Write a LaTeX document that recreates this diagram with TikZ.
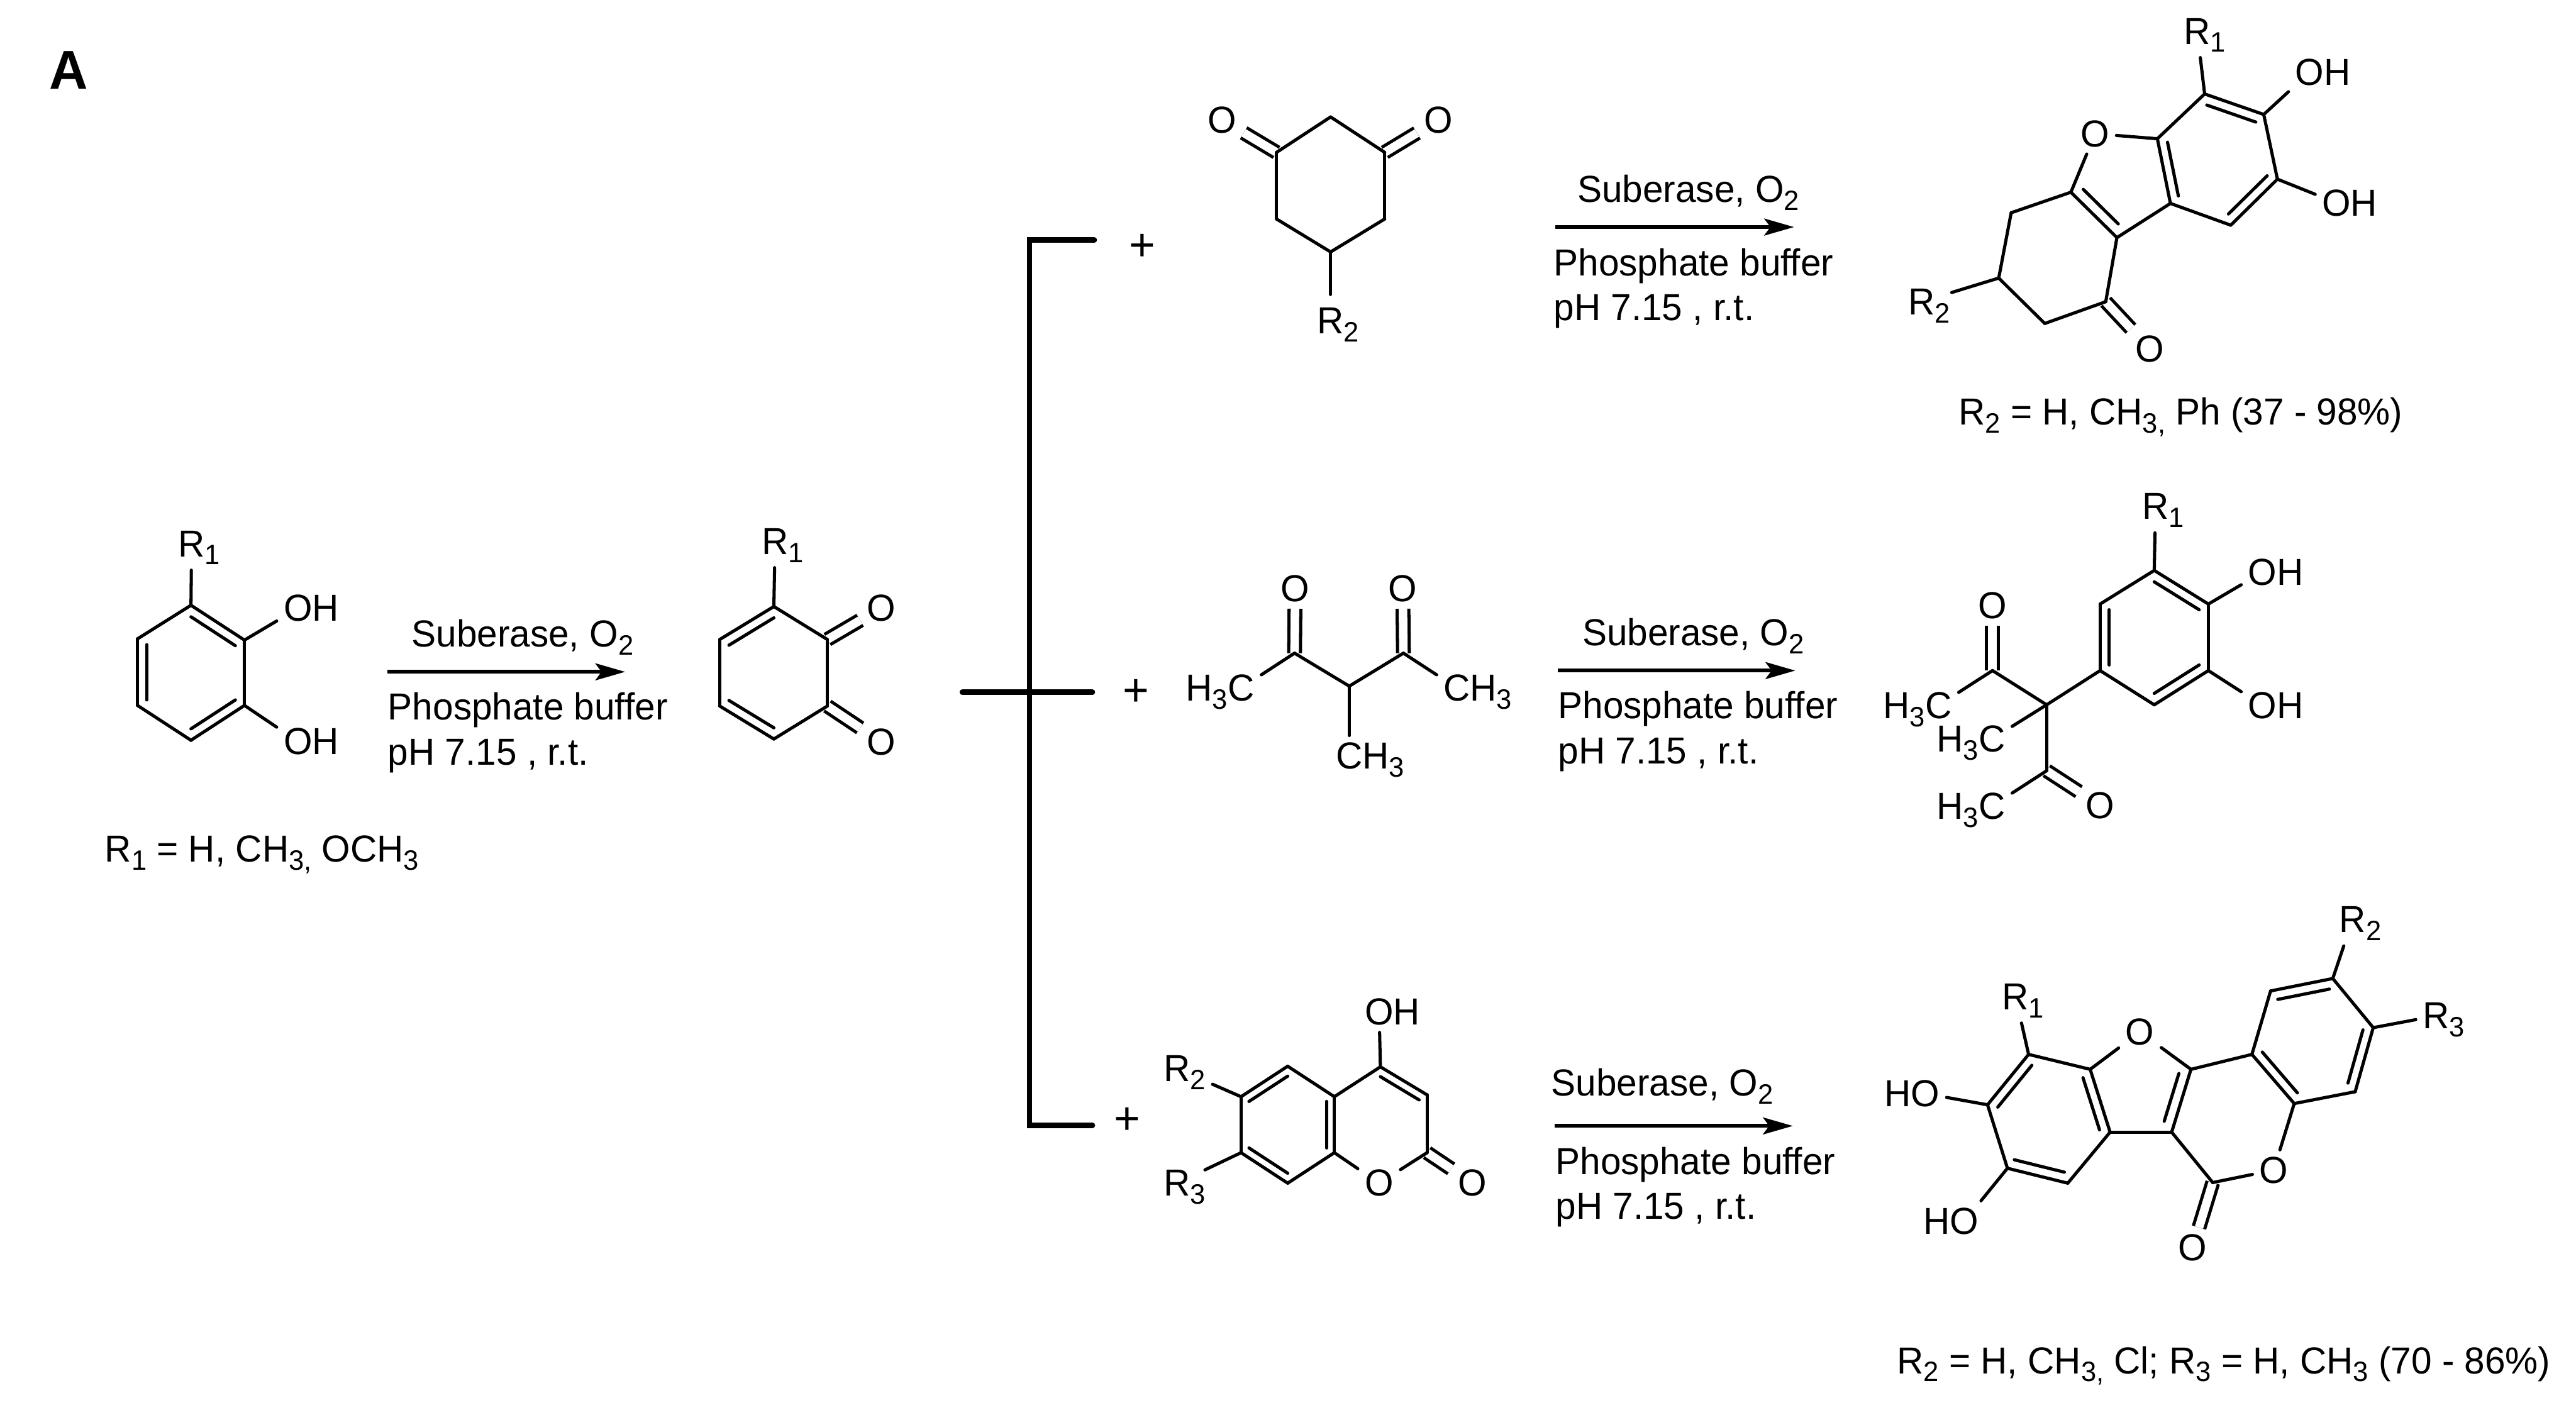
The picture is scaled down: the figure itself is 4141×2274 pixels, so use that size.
\documentclass[tikz,border=0pt]{standalone}
\usepackage{fontspec}
\setmainfont{Liberation Sans}[FakeStretch=.978]
\usetikzlibrary{arrows.meta}
\usetikzlibrary{calc}
\usetikzlibrary{graphs}
\tikzset{>={Stealth[length=13.6pt,width=7.7pt,inset=2.8pt]}}
\tikzstyle{lbl}=[anchor=base west,inner sep=0pt,font=\fontsize{17.2}{20}\selectfont]
\tikzstyle{atom}=[inner sep=3pt,font=\fontsize{17.2}{20}\selectfont]
\tikzstyle{rgroup}=[atom,inner xsep=3pt,inner ysep=6pt]
\tikzstyle{rside}=[atom,inner xsep=7.5pt]
\tikzstyle{plus}=[atom,font=\fontsize{21}{24}\selectfont]
\tikzstyle{bond}=[line width=1.45pt,line cap=round]
\tikzstyle{carbonyl}=[line width=1.45pt,line cap=butt,double,double distance=3.9pt]
\tikzstyle{bracket}=[line width=2.55pt,line cap=round]
\tikzstyle{rxn}=[->,line width=1.7pt]
\newcommand{\sbs}[1]{\raisebox{-.13cm}{\fontsize{12.8}{13}\selectfont #1}}
\newcommand{\after}[1]{\rlap{\smash{#1}}} % bond points at the first letter
\newcommand{\before}[1]{\llap{\smash{#1}}}
\newcommand{\ringbond}[4][.17]{\draw[bond] ($(#2)!#1!(#4)$) -- ($(#3)!#1!(#4)$);}

\begin{document}
\begin{tikzpicture}[x=0.01cm,y=-0.01cm]
    \path[use as bounding box] (0,0) rectangle (4141,2274);

    \node[lbl,font=\fontsize{25}{28}\selectfont\bfseries] (panel) at (79,143) {A};

    \foreach \n/\x/\y in {
      cat1/307/973, cat2/393/1029, cat3/393/1134, cat4/307/1190, cat5/221/1134, cat6/221/1027, catc/307/1082,
      qui1/1244/975, qui2/1330/1028, qui3/1330/1135, qui4/1244/1188, qui5/1157/1135, qui6/1157/1028, quic/1244/1082,
      dio1/2139/188, dio2/2226/245, dio3/2226/352, dio4/2139/405, dio5/2052/352, dio6/2052/245,
      top1/3544/151, top2/3639/184, top3/3661/288, top4/3586/362, top5/3489/327, top6/3468/223, topc/3564/256,
      top7/3403/382, top8/3329/309, top9/3233/342, top10/3213/447, top11/3287/520, top12/3385/485, topf/3412/290,
      dik1/2081/1050, dik2/2169/1103, dik3/2256/1050,
      mid1/3463/917, mid2/3550/971, mid3/3550/1078, mid4/3463/1133, mid5/3376/1078, mid6/3376/971, midc/3463/1025,
      midq/3290/1133, mid7/3203/1078, mid8/3290/1239,
      cou1/2070/1714, cou2/2145/1763, cou3/2145/1853, cou4/2070/1902, cou5/1995/1853, cou6/1995/1763, couc/2070/1808,
      cou7/2219/1715, cou8/2294/1760, cou9/2294/1853, coul/2219/1808,
      bot1/3261/1695, bot2/3360/1719, bot3/3392/1820, bot4/3324/1902, bot5/3227/1878, bot6/3195/1776, botc/3292/1798,
      bot7/3522/1719, bot8/3491/1820, botf/3441/1747,
      bot9/3620/1695, bot10/3688/1774, bot11/3786/1755, bot12/3815/1652, bot13/3750/1573, bot14/3650/1593, botr/3718/1673,
      bot15/3557/1901,
      bra1/1759/386, bra2/1655/386, bra3/1655/1809, bra4/1756/1809, brm1/1547/1113, brm2/1756/1113
    }{
      \coordinate (\n) at (\x,\y);
    }

    % catechol
    \node[rgroup] (catr) at (308,874) {R\after{\sbs{1}}};
    \node[atom] (cato1) at (479,978) {O\after{H}};
    \node[atom] (cato2) at (479,1192) {O\after{H}};
    \node[lbl] (catnote) at (168,1386) {R\sbs{1} = H, CH\sbs{3,} OCH\sbs{3}};
    \graph[use existing nodes, edges={bond}]{
      cat1 -- cat2 -- cat3 -- cat4 -- cat5 -- cat6 -- cat1,
      cat1 -- catr, cat2 -- cato1, cat3 -- cato2
    };

    % quinone
    \node[rgroup] (quir) at (1246,870) {R\after{\sbs{1}}};
    \node[atom] (quio1) at (1417,977) {O};
    \node[atom] (quio2) at (1417,1193) {O};
    \graph[use existing nodes, edges={bond}]{
      qui2 --[carbonyl] quio1, qui3 --[carbonyl] quio2,
      qui1 -- qui2 -- qui3 -- qui4 -- qui5 -- qui6 -- qui1,
      qui1 -- quir
    };

    % the three partners
    \draw[bracket] (bra1) -- (bra2) -- (bra3) -- (bra4);
    \draw[bracket] (brm1) -- (brm2);
    \node[plus] (plus1) at (1836,398) {+};
    \node[plus] (plus2) at (1826,1113) {+};
    \node[plus] (plus3) at (1812,1802) {+};

    \node[atom] (dioo1) at (1965,193) {O};
    \node[atom] (dioo2) at (2312,193) {O};
    \node[rgroup] (dior) at (2139,516) {R\after{\sbs{2}}};
    \graph[use existing nodes, edges={bond}]{
      dio6 --[carbonyl] dioo1, dio2 --[carbonyl] dioo2,
      dio1 -- dio2 -- dio3 -- dio4 -- dio5 -- dio6 -- dio1,
      dio4 -- dior
    };

    \node[atom] (diko1) at (2082,946) {O};
    \node[atom] (diko2) at (2255,946) {O};
    \node[atom] (dikm1) at (1995,1106) {\before{H\sbs{3}}C};
    \node[atom] (dikm2) at (2342,1106) {C\after{H\sbs{3}}};
    \node[atom] (dikm3) at (2169,1215) {C\after{H\sbs{3}}};
    \graph[use existing nodes, edges={bond}]{
      dik1 --[carbonyl] diko1, dik3 --[carbonyl] diko2,
      dikm1 -- dik1 -- dik2 -- dik3 -- dikm2,
      dik2 -- dikm3
    };

    \node[atom] (couoh) at (2217,1627) {O\after{H}};
    \node[atom] (couo1) at (2217,1902) {O};
    \node[atom] (couo2) at (2367,1902) {O};
    \node[rside,inner xsep=10pt] (cour2) at (1892,1718) {R\after{\sbs{2}}};
    \node[rside,inner xsep=6.5pt] (cour3) at (1892,1902) {R\after{\sbs{3}}};
    \graph[use existing nodes, edges={bond}]{
      cou9 --[carbonyl] couo2,
      cou1 -- cou2 -- cou3 -- cou4 -- cou5 -- cou6 -- cou1,
      cou2 -- cou7 -- cou8 -- cou9 -- couo1 -- cou3,
      cou7 -- couoh, cou6 -- cour2, cou5 -- cour3
    };

    % conditions
    \foreach \n/\xa/\xb/\xc/\xd/\ya/\yb/\yc/\yd in {
      1/623/1005/661/623/1080/1040/1157/1230,
      2/2500/2884/2535/2497/365/325/443/515,
      3/2504/2886/2543/2504/1078/1038/1155/1228,
      4/2499/2882/2493/2500/1810/1762/1888/1960
    }{
      \coordinate (from\n) at (\xa,\ya);
      \coordinate (to\n) at (\xb,\ya);
      \draw[rxn] (from\n) -- (to\n);
      \node[lbl] (enz\n) at (\xc,\yb) {Suberase, O\sbs{2}};
      \node[lbl] (buf\n) at (\xd,\yc) {Phosphate buffer};
      \node[lbl] (phv\n) at (\xd,\yd) {pH 7.15 , r.t.};
    }

    % products
    \node[rgroup] (topr1) at (3532,50) {R\after{\sbs{1}}};
    \node[atom] (topo1) at (3713,116) {O\after{H}};
    \node[atom] (topo2) at (3756,326) {O\after{H}};
    \node[atom] (topo3) at (3368,215) {O};
    \node[atom] (topo4) at (3456,561) {O};
    \node[rside] (topr2) at (3089,485) {R\after{\sbs{2}}};
    \node[lbl] (topnote) at (3148,683) {R\sbs{2} = H, CH\sbs{3,} Ph (37 - 98\%)};
    \graph[use existing nodes, edges={bond}]{
      top12 --[carbonyl] topo4,
      top1 -- top2 -- top3 -- top4 -- top5 -- top6 -- top1,
      top5 -- top7 -- top8 -- top9 -- top10 -- top11 -- top12 -- top7,
      top6 -- topo3 -- top8,
      top1 -- topr1, top2 -- topo1, top3 -- topo2, top10 -- topr2
    };

    \node[rgroup] (midr1) at (3465,814) {R\after{\sbs{1}}};
    \node[atom] (mido1) at (3637,920) {O\after{H}};
    \node[atom] (mido2) at (3637,1134) {O\after{H}};
    \node[atom] (mido3) at (3203,973) {O};
    \node[atom] (mido4) at (3376,1295) {O};
    \node[atom] (midm1) at (3116,1134) {\before{H\sbs{3}}C};
    \node[atom] (midm2) at (3202,1188) {\before{H\sbs{3}}C};
    \node[atom] (midm3) at (3202,1296) {\before{H\sbs{3}}C};
    \graph[use existing nodes, edges={bond}]{
      mid7 --[carbonyl] mido3, mid8 --[carbonyl] mido4,
      mid1 -- mid2 -- mid3 -- mid4 -- mid5 -- mid6 -- mid1,
      mid5 -- midq -- mid7 -- midm1,
      midq -- midm2, midq -- mid8 -- midm3,
      mid1 -- midr1, mid2 -- mido1, mid3 -- mido2
    };

    \node[rgroup] (botr1) at (3240,1602) {R\after{\sbs{1}}};
    \node[rgroup] (botr2) at (3782,1478) {R\after{\sbs{2}}};
    \node[atom] (botr3) at (3916,1633) {R\after{\sbs{3}}};
    \node[atom] (boto1) at (3095,1758) {\before{H}O};
    \node[atom] (boto2) at (3158,1963) {\before{H}O};
    \node[atom] (boto3) at (3440,1659) {O};
    \node[atom] (boto4) at (3655,1881) {O};
    \node[atom] (boto5) at (3525,2006) {O};
    \node[lbl] (botnote) at (3049,2208) {R\sbs{2} = H, CH\sbs{3,} Cl; R\sbs{3} = H, CH\sbs{3} (70 - 86\%)};
    \graph[use existing nodes, edges={bond}]{
      bot15 --[carbonyl] boto5,
      bot1 -- bot2 -- bot3 -- bot4 -- bot5 -- bot6 -- bot1,
      bot2 -- boto3 -- bot7 -- bot8 -- bot3,
      bot7 -- bot9 -- bot10 -- bot11 -- bot12 -- bot13 -- bot14 -- bot9,
      bot8 -- bot15 -- boto4 -- bot10,
      bot1 -- botr1, bot6 -- boto1, bot5 -- boto2, bot13 -- botr2, bot12 -- botr3
    };

    % inner lines of the double bonds
    \foreach \p/\q/\c in {
      cat1/cat2/catc, cat3/cat4/catc, cat5/cat6/catc,
      qui1/qui6/quic, qui4/qui5/quic,
      top1/top2/topc, top3/top4/topc, top5/top6/topc,
      mid1/mid2/midc, mid3/mid4/midc, mid5/mid6/midc,
      cou1/cou6/couc, cou2/cou3/couc, cou4/cou5/couc, cou7/cou8/coul,
      bot1/bot6/botc, bot2/bot3/botc, bot4/bot5/botc,
      bot9/bot10/botr, bot11/bot12/botr, bot13/bot14/botr}{
      \ringbond{\p}{\q}{\c}
    }
    \ringbond[.24]{top7}{top8}{topf}
    \ringbond[.24]{bot7}{bot8}{botf}
\end{tikzpicture}
\end{document}
